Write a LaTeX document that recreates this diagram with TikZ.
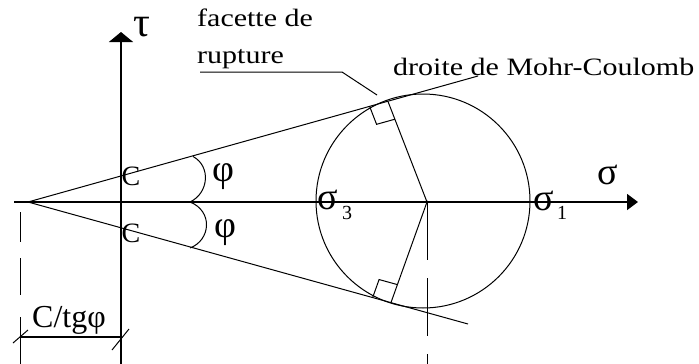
\documentclass[tikz,border=0pt]{standalone}
\usepackage{fontspec}
\setmainfont{Liberation Serif}
\usetikzlibrary{calc,arrows.meta}
\begin{document}
\begin{tikzpicture}[x=1pt,y=-1pt,
  axisline/.style={line width=1.5pt},
  thinline/.style={line width=1pt},
  dimline/.style={line width=1.1pt},
  lbl/.style={inner sep=0pt, font=\fontsize{25}{28}\selectfont},
  big/.style={inner sep=0pt, font=\fontsize{32}{36}\selectfont},
  clbl/.style={inner sep=0pt, font=\fontsize{28}{32}\selectfont},
  philbl/.style={inner sep=0pt, font=\fontsize{38}{42}\selectfont},
  siglbl/.style={inner sep=0pt, font=\fontsize{38}{42}\selectfont},
  sublbl/.style={inner sep=0pt, font=\fontsize{20}{24}\selectfont},
]
\useasboundingbox (0,0) rectangle (699,364);
% key points
\coordinate (A) at (28,202);
\coordinate (O) at (427,202);
\coordinate (C0) at (423,201);
\coordinate (T1) at (388,101.5);
\coordinate (T2) at (391,302.5);
\coordinate (U) at (478,76);
\coordinate (L) at (468,324);
\coordinate (xs) at (14,202);
\coordinate (xe) at (638,202);
\coordinate (ys) at (121,364);
\coordinate (ye) at (121,32);
% axes
\draw[axisline,-{Triangle[length=11pt,width=16pt]}] (xs) -- (xe);
\draw[axisline,-{Triangle[length=10pt,width=24pt]}] (ys) -- (ye);
% Mohr-Coulomb lines
\draw[thinline] (A) -- (U);
\draw[thinline] (A) -- (L);
% circle
\draw[thinline] (C0) circle[radius=107];
% radii
\draw[thinline] (O) -- (T1);
\draw[thinline] (O) -- (T2);
\fill (O) circle[radius=1.6];
% right angle marks
\coordinate (s1a) at ($(T1)!19pt!(A)$);
\coordinate (s1b) at ($(T1)!19pt!(O)$);
\draw[thinline] (s1a) -- ($(s1a)+(s1b)-(T1)$) -- (s1b);
\coordinate (s2a) at ($(T2)!19pt!(A)$);
\coordinate (s2b) at ($(T2)!19pt!(O)$);
\draw[thinline] (s2a) -- ($(s2a)+(s2b)-(T2)$) -- (s2b);
% angle arcs
\coordinate (a1) at (193,156.5);
\coordinate (a0) at (190,202);
\coordinate (a2) at (190,248);
\draw[thinline] (a1) .. controls (211,166) and (209,193) .. (a0);
\draw[thinline] (a0) .. controls (213,211) and (211,240) .. (a2);
% dashed verticals
\coordinate (dO) at (427,364);
\draw[thinline, dash pattern=on 58pt off 18pt] (O) -- (dO);
\draw[thinline] (20,212) -- (20,242);
\draw[thinline] (20,258) -- (20,295);
\draw[thinline] (20,317) -- (20,364);
% dimension
\coordinate (d1) at (20,337);
\coordinate (d2) at (121,337);
\draw[dimline] (d1) -- (d2);
\draw[thinline] (13,343) -- (28,330);
\draw[thinline] (112,350) -- (129,329);
% leader
\coordinate (l1) at (200,72);
\coordinate (l2) at (342,72);
\coordinate (l3) at (377,95);
\draw[thinline] (l1) -- (l2) -- (l3);
% texts
\node[lbl, anchor=base west] (fac) at (197,26) {\scalebox{1.2}[1]{facette de}};
\node[lbl, anchor=base west] (rup) at (197,63) {\scalebox{1.2}[1]{rupture}};
\node[lbl, anchor=base west] (mc) at (393,75) {\scalebox{1.2}[1]{droite de Mohr-Coulomb}};
\node[big, anchor=base west] (ctg) at (32,327) {C/tgφ};
\node[clbl] (c1) at (131,176) {C};
\node[clbl] (c2) at (131,233) {C};
\node[philbl] (p1) at (223,177) {φ};
\node[philbl] (p2) at (225,233) {φ};
\node[inner sep=0pt, font=\fontsize{42}{46}\selectfont] (tau) at (142,27) {τ};
\node[siglbl] (sig) at (608,175) {σ};
\node[siglbl] (sig3) at (328,200) {σ};
\node[sublbl] (n3) at (347,213) {3};
\node[siglbl] (sig1) at (544,201) {σ};
\node[sublbl] (n1) at (562,213) {1};
\end{tikzpicture}
\end{document}
